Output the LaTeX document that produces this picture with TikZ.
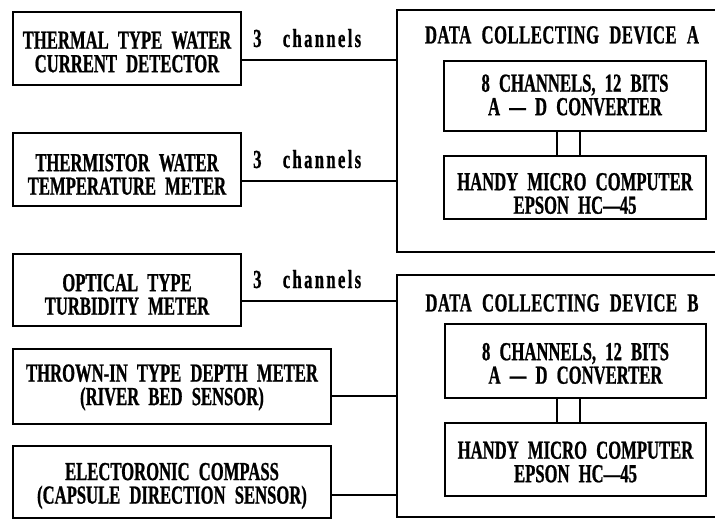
\documentclass[tikz,border=0pt]{standalone}
\usepackage{fontspec}
\setmainfont{Liberation Serif}[FakeStretch=0.64,WordSpace=2.2,FakeBold=0.8]
\begin{document}
\begin{tikzpicture}[x=1pt,y=-1pt,
  font=\fontsize{26}{23.5}\selectfont\bfseries,
  box/.style={draw,line width=2pt,inner sep=0pt,anchor=north west},
  txt/.style={inner sep=0pt,align=center},
  wire/.style={line width=2pt},
  lbl/.style={inner sep=0pt,anchor=base west}]
\useasboundingbox (0,0) rectangle (715,519);
% left sensor boxes
\node[box,minimum width=228pt,minimum height=73pt] (b1) at (12,11) {};
\node[box,minimum width=228pt,minimum height=73pt] (b2) at (12,132) {};
\node[box,minimum width=228pt,minimum height=72pt] (b3) at (12,253) {};
\node[box,minimum width=318pt,minimum height=75pt] (b4) at (12,348) {};
\node[box,minimum width=318pt,minimum height=72pt] (b5) at (12,445) {};
\node[txt] (b1t) at ([yshift=-3.5pt]b1.center) {THERMAL TYPE WATER\\CURRENT DETECTOR};
\node[txt] (b2t) at ([yshift=-5pt]b2.center) {THERMISTOR WATER\\TEMPERATURE METER};
\node[txt] (b3t) at ([yshift=-4.5pt]b3.center) {OPTICAL TYPE\\TURBIDITY METER};
\node[txt] (b4t) at ([yshift=-1pt]b4.center) {THROWN-IN TYPE DEPTH METER\\(RIVER BED SENSOR)};
\node[txt] (b5t) at ([yshift=-4pt]b5.center) {ELECTORONIC COMPASS\\(CAPSULE DIRECTION SENSOR)};
% device outlines (open to the right)
\node[inner sep=0pt,anchor=north west,minimum width=318pt,minimum height=242pt] (devA) at (397,10) {};
\node[inner sep=0pt,anchor=north west,minimum width=318pt,minimum height=242pt] (devB) at (397,275) {};
\draw[wire] (devA.north east) -- (devA.north west) -- (devA.south west) -- (devA.south east);
\draw[wire] (devB.north east) -- (devB.north west) -- (devB.south west) -- (devB.south east);
\node (tA) at (562,35) {\addfontfeature{LetterSpace=2}DATA COLLECTING DEVICE A};
\node (tB) at (562,303) {\addfontfeature{LetterSpace=2}DATA COLLECTING DEVICE B};
% inner boxes
\node[box,minimum width=262pt,minimum height=70pt] (adcA) at (443,60) {};
\node[box,minimum width=262pt,minimum height=63pt] (pcA) at (443,155) {};
\node[box,minimum width=261pt,minimum height=74pt] (adcB) at (444,323) {};
\node[box,minimum width=261pt,minimum height=73pt] (pcB) at (444,422) {};
\node[txt] (adcAt) at ([yshift=1pt]adcA.center) {8 CHANNELS, 12 BITS\\A — D CONVERTER};
\node[txt] (pcAt) at ([yshift=-6pt]pcA.center) {HANDY MICRO COMPUTER\\EPSON HC—45};
\node[txt] (adcBt) at ([yshift=-2.5pt]adcB.center) {8 CHANNELS, 12 BITS\\A — D CONVERTER};
\node[txt] (pcBt) at ([yshift=-2.5pt]pcB.center) {HANDY MICRO COMPUTER\\EPSON HC—45};
\draw[wire] (adcA.south -| 557,0) -- (pcA.north -| 557,0);
\draw[wire] (adcA.south -| 580,0) -- (pcA.north -| 580,0);
\draw[wire] (adcB.south -| 557,0) -- (pcB.north -| 557,0);
\draw[wire] (adcB.south -| 580,0) -- (pcB.north -| 580,0);
% connectors
\draw[wire] (b1.east |- 0,60) -- (devA.west |- 0,60);
\draw[wire] (b2.east |- 0,181) -- (devA.west |- 0,181);
\draw[wire] (b3.east |- 0,301) -- (devB.west |- 0,301);
\draw[wire] (b4.east |- 0,396) -- (devB.west |- 0,396);
\draw[wire] (b5.east |- 0,495) -- (devB.west |- 0,495);
% channel labels
\node[lbl] (c1) at (253,47) {\addfontfeature{LetterSpace=9}3\hspace{7pt} channels};
\node[lbl] (c2) at (253,168) {\addfontfeature{LetterSpace=9}3\hspace{7pt} channels};
\node[lbl] (c3) at (253,288) {\addfontfeature{LetterSpace=9}3\hspace{7pt} channels};
\end{tikzpicture}
\end{document}
